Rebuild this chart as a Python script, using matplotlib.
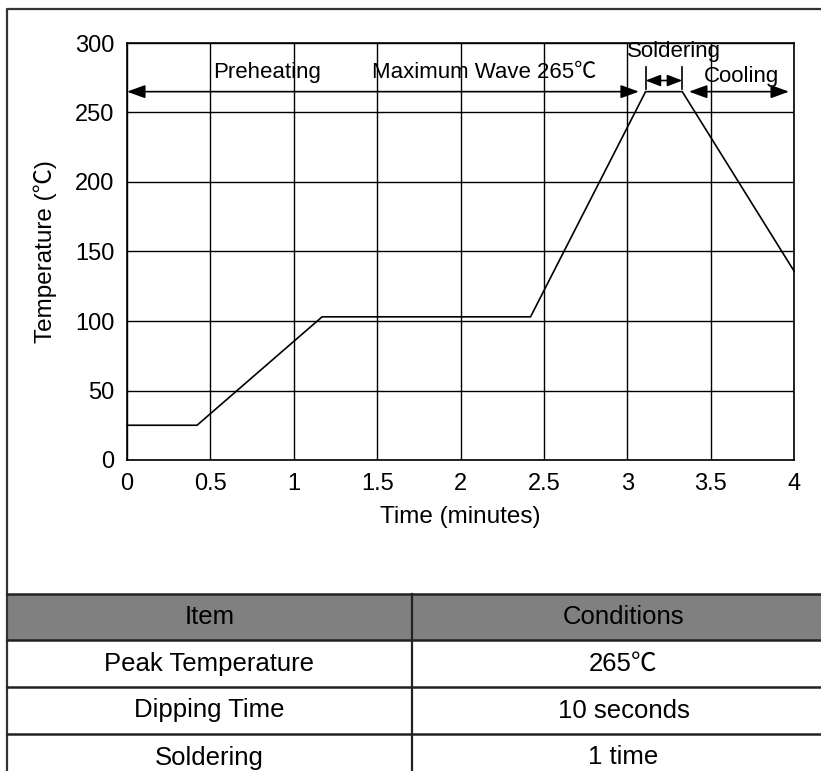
import matplotlib.pyplot as plt
from matplotlib.patches import Rectangle, ArrowStyle

plt.rcParams["font.family"] = ["Liberation Sans", "Noto Sans CJK SC", "DejaVu Sans"]

# wave soldering profile
time_min = [0, 0.42, 1.17, 2.42, 3.11, 3.33, 4.0]
temp_c = [25, 25, 103, 103, 265, 265, 136]

x_ticks = [0, 0.5, 1, 1.5, 2, 2.5, 3, 3.5, 4]
x_tick_labels = ["0", "0.5", "1", "1.5", "2", "2.5", "3", "3.5", "4"]
y_ticks = [0, 50, 100, 150, 200, 250, 300]

# stage spans (start, end) in minutes
preheat_span = (0, 3.07)
solder_span = (3.11, 3.33)
cooling_span = (3.37, 3.97)

table_header = ["Item", "Conditions"]
table_items = ["Peak Temperature", "Dipping Time", "Soldering"]
table_conditions = ["265\u2103", "10 seconds", "1 time"]


def draw_frame_and_table(fig):
    bg = fig.add_axes([0, 0, 1, 1], zorder=0)
    bg.set_xlim(0, 821)
    bg.set_ylim(771, 0)
    bg.axis("off")
    # outer frame (cut off at right / bottom)
    bg.plot([7, 7, 830], [800, 9, 9], color="#333333", lw=1.6)

    top, header_h, row_h = 594, 46, 47
    left, mid, right = 7, 412, 835
    bg.add_patch(Rectangle((left, top), right - left, header_h,
                           facecolor="#808080", edgecolor="none"))
    lines_y = [top] + [top + header_h + i * row_h for i in range(len(table_items))]
    for y in lines_y:
        bg.plot([left, right], [y, y], color="#222222", lw=1.8)
    bg.plot([mid, mid], [top, 790], color="#222222", lw=1.6)

    fs = 18.5
    bg.text((left + mid) / 2, top + header_h / 2, table_header[0],
            ha="center", va="center", fontsize=fs)
    bg.text((mid + right) / 2, top + header_h / 2, table_header[1],
            ha="center", va="center", fontsize=fs)
    for i, (item, cond) in enumerate(zip(table_items, table_conditions)):
        yc = top + header_h + i * row_h + row_h / 2
        bg.text((left + mid) / 2, yc, item, ha="center", va="center", fontsize=fs)
        bg.text((mid + right) / 2, yc, cond, ha="center", va="center", fontsize=fs)


def arrow(ax, x0, x1, y, hl, hw):
    style = ArrowStyle("<|-|>", head_length=hl, head_width=hw)
    ax.annotate("", xy=(x1, y), xytext=(x0, y),
                arrowprops=dict(arrowstyle=style, color="black", lw=1.2,
                                shrinkA=0, shrinkB=0, mutation_scale=10))


def main():
    fig = plt.figure(figsize=(8.21, 7.71), dpi=100)
    draw_frame_and_table(fig)

    ax = fig.add_axes([127 / 821, (771 - 460) / 771,
                       (794 - 127) / 821, (460 - 43) / 771], zorder=1)
    ax.plot(time_min, temp_c, color="black", lw=1.2, clip_on=False)
    ax.set_xlim(0, 4)
    ax.set_ylim(0, 300)
    ax.set_xticks(x_ticks)
    ax.set_xticklabels(x_tick_labels)
    ax.set_yticks(y_ticks)
    ax.grid(True, color="black", lw=1.0)
    ax.tick_params(length=0, labelsize=17, pad=9)
    for s in ax.spines.values():
        s.set_linewidth(1.2)
    ax.set_xlabel("Time (minutes)", fontsize=17.5, labelpad=8)
    ax.set_ylabel("Temperature (\u2103)", fontsize=17.5, labelpad=13)

    arrow(ax, preheat_span[0], preheat_span[1], 265, 1.1, 0.4)
    arrow(ax, solder_span[0], solder_span[1], 273, 0.9, 0.35)
    arrow(ax, cooling_span[0], cooling_span[1], 265, 1.1, 0.4)
    for x in solder_span:
        ax.plot([x, x], [267, 283], color="black", lw=1.2)

    ax.text(0.84, 279, "Preheating", ha="center", va="center", fontsize=16)
    ax.text(2.14, 279, "Maximum Wave 265\u2103", ha="center", va="center", fontsize=16)
    ax.text(3.0, 294, "Soldering", ha="left", va="center", fontsize=16)
    ax.text(3.46, 276, "Cooling", ha="left", va="center", fontsize=16)

    fig.savefig("out.png", dpi=100)


if __name__ == "__main__":
    main()
